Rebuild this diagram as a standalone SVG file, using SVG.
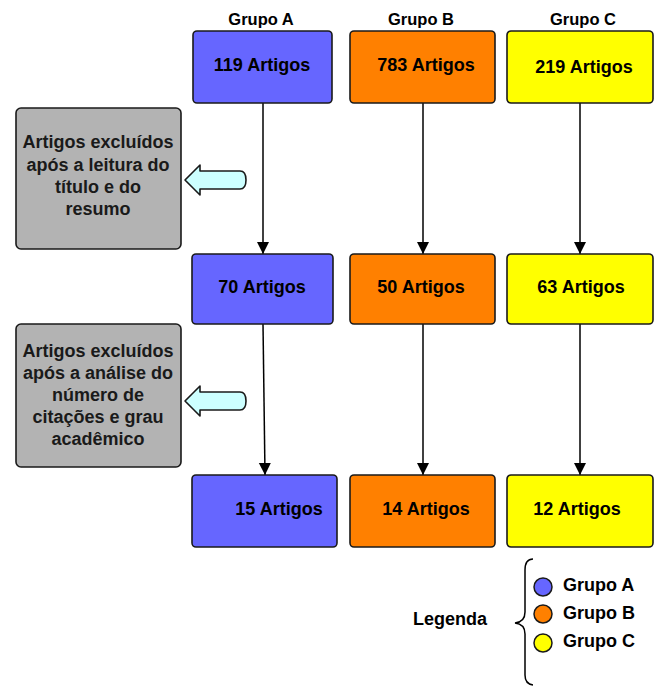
<svg xmlns="http://www.w3.org/2000/svg" width="661" height="686" viewBox="0 0 661 686">
  <style>
    .box { stroke: #1a1a1a; stroke-width: 1.6; }
    .a { fill: #6666ff; }
    .b { fill: #ff8000; }
    .c { fill: #ffff00; }
    .gray { fill: #b3b3b3; stroke: #1a1a1a; stroke-width: 1.6; }
    .blk { fill: #ccffff; stroke: #1a1a1a; stroke-width: 1.6; stroke-linejoin: round; }
    .t { font-family: "Liberation Sans", Arial, sans-serif; font-weight: bold; fill: #000; }
    .num { font-size: 18px; text-anchor: middle; }
    .head { font-size: 16.5px; text-anchor: middle; }
    .note { font-size: 18px; text-anchor: middle; fill: #1a1a1a; }
    .leg { font-size: 18px; }
    .wire { stroke: #000; stroke-width: 1.5; fill: none; marker-end: url(#arr); }
  </style>
  <defs>
    <marker id="arr" markerUnits="userSpaceOnUse" markerWidth="12" markerHeight="14" refX="12" refY="6" orient="auto">
      <path d="M0,0 L12,6 L0,12 Z" fill="#000"/>
    </marker>
  </defs>

  <!-- column headings -->
  <text class="t head" x="261" y="25">Grupo A</text>
  <text class="t head" x="421" y="25">Grupo B</text>
  <text class="t head" x="583" y="25">Grupo C</text>

  <!-- connectors -->
  <g id="connectors">
    <path class="wire" d="M263,103 L263,254"/>
    <path class="wire" d="M423,103 L423,254"/>
    <path class="wire" d="M580,103 L580,254"/>
    <path class="wire" d="M263,324 L265,475"/>
    <path class="wire" d="M423,324 L423,475"/>
    <path class="wire" d="M580,324 L580,475"/>
  </g>

  <!-- row 1 -->
  <g id="a1"><rect class="box a" x="193" y="31" width="139" height="72" rx="4"/><text class="t num" x="262" y="71">119 Artigos</text></g>
  <g id="b1"><rect class="box b" x="350" y="31" width="145" height="72" rx="4"/><text class="t num" x="426" y="71">783 Artigos</text></g>
  <g id="c1"><rect class="box c" x="507" y="31" width="146" height="72" rx="4"/><text class="t num" x="584" y="73">219 Artigos</text></g>

  <!-- row 2 -->
  <g id="a2"><rect class="box a" x="192" y="254" width="141" height="70" rx="4"/><text class="t num" x="262" y="293">70 Artigos</text></g>
  <g id="b2"><rect class="box b" x="350" y="254" width="145" height="70" rx="4"/><text class="t num" x="421" y="293">50 Artigos</text></g>
  <g id="c2"><rect class="box c" x="507" y="254" width="146" height="70" rx="4"/><text class="t num" x="581" y="293">63 Artigos</text></g>

  <!-- row 3 -->
  <g id="a3"><rect class="box a" x="192" y="475" width="145" height="72" rx="4"/><text class="t num" x="279" y="515">15 Artigos</text></g>
  <g id="b3"><rect class="box b" x="350" y="475" width="145" height="72" rx="4"/><text class="t num" x="426" y="515">14 Artigos</text></g>
  <g id="c3"><rect class="box c" x="507" y="475" width="146" height="72" rx="4"/><text class="t num" x="577" y="515">12 Artigos</text></g>

  <!-- exclusion notes -->
  <g id="excl1">
    <rect class="gray" x="16" y="108" width="165" height="141" rx="5"/>
    <text class="t note" x="98" y="148">Artigos excluídos</text>
    <text class="t note" x="98" y="171">após a leitura do</text>
    <text class="t note" x="98" y="193">título e do</text>
    <text class="t note" x="98" y="215">resumo</text>
  </g>
  <g id="excl2">
    <rect class="gray" x="16" y="324" width="165" height="143" rx="5"/>
    <text class="t note" x="98" y="357">Artigos excluídos</text>
    <text class="t note" x="98" y="379">após a análise do</text>
    <text class="t note" x="98" y="401">número de</text>
    <text class="t note" x="98" y="423">citações e grau</text>
    <text class="t note" x="98" y="445">acadêmico</text>
  </g>

  <!-- block arrows pointing to notes -->
  <g id="blk1">
    <path class="blk" d="M185,180 L200,165 L200,171 L240,171 Q246,171 246,180 Q246,189 240,189 L200,189 L200,195 Z"/>
  </g>
  <g id="blk2">
    <path class="blk" d="M185,401 L200,386 L200,392 L240,392 Q246,392 246,401 Q246,410 240,410 L200,410 L200,416 Z"/>
  </g>

  <!-- legend -->
  <g id="legend">
    <text class="t leg" x="450" y="625" text-anchor="middle">Legenda</text>
    <path d="M533,559 Q525,559 525,570 L525,612 Q525,622 515,623 Q525,624 525,634 L525,675 Q525,684 533,685" fill="none" stroke="#000" stroke-width="1.5"/>
    <circle cx="543" cy="587" r="9" fill="#6666ff" stroke="#1a1a1a" stroke-width="1.5"/>
    <circle cx="543" cy="614" r="9" fill="#ff8000" stroke="#1a1a1a" stroke-width="1.5"/>
    <circle cx="543" cy="643" r="9" fill="#ffff00" stroke="#1a1a1a" stroke-width="1.5"/>
    <text class="t leg" x="563" y="591">Grupo A</text>
    <text class="t leg" x="563" y="619">Grupo B</text>
    <text class="t leg" x="563" y="647">Grupo C</text>
  </g>
</svg>
